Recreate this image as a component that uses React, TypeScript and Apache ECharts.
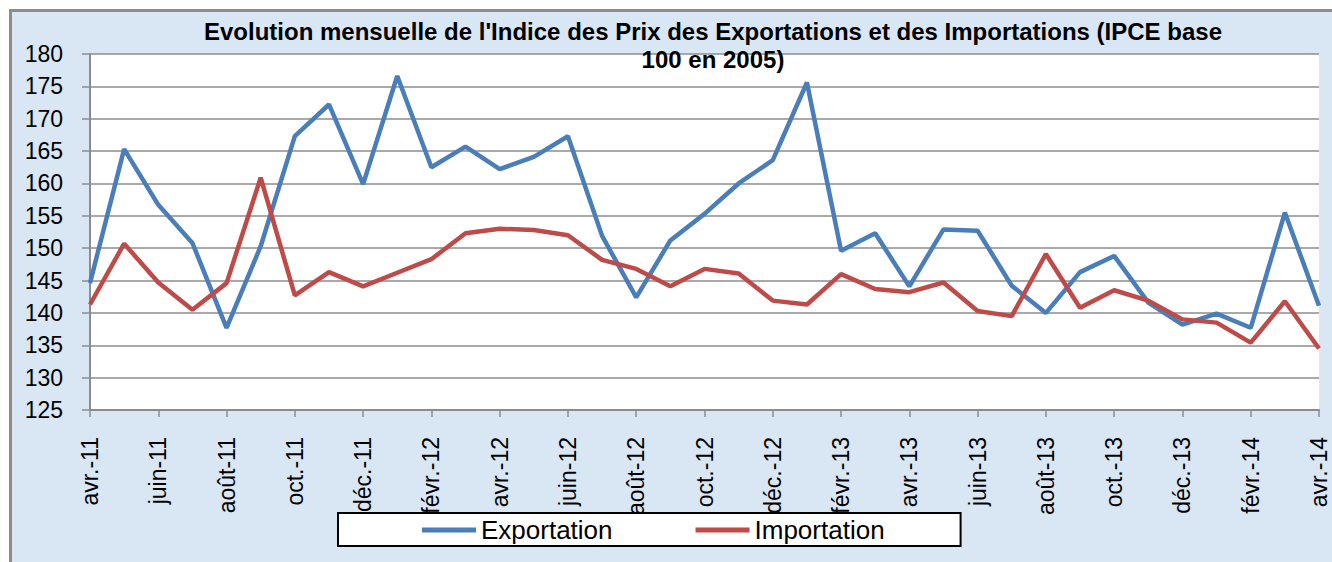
import React, { useEffect, useRef } from "react";
import * as echarts from "echarts";

const months: string[] = [
  "avr.-11", "mai-11", "juin-11", "juil.-11", "août-11", "sept.-11", "oct.-11", "nov.-11", "déc.-11",
  "janv.-12", "févr.-12", "mars-12", "avr.-12", "mai-12", "juin-12", "juil.-12", "août-12", "sept.-12",
  "oct.-12", "nov.-12", "déc.-12", "janv.-13", "févr.-13", "mars-13", "avr.-13", "mai-13", "juin-13",
  "juil.-13", "août-13", "sept.-13", "oct.-13", "nov.-13", "déc.-13", "janv.-14", "févr.-14", "mars-14",
  "avr.-14",
];

const exportation: number[] = [
  144.6, 165.3, 156.7, 150.8, 137.7, 150.3, 167.3, 172.2, 159.9,
  176.6, 162.5, 165.7, 162.2, 164.1, 167.3, 151.9, 142.4, 151.2,
  155.3, 160.0, 163.6, 175.6, 149.6, 152.3, 144.1, 152.9, 152.7,
  144.2, 140.0, 146.3, 148.8, 141.6, 138.2, 139.9, 137.7, 155.5,
  141.1,
];

const importation: number[] = [
  141.3, 150.7, 144.7, 140.5, 144.6, 160.9, 142.7, 146.3, 144.1,
  146.2, 148.3, 152.3, 153.0, 152.8, 152.0, 148.2, 146.8, 144.1,
  146.8, 146.1, 141.9, 141.3, 146.0, 143.7, 143.2, 144.7, 140.3,
  139.5, 149.1, 140.8, 143.5, 141.9, 139.0, 138.5, 135.4, 141.8,
  134.5,
];

const titleLines: string[] = [
  "Evolution mensuelle de l'Indice des Prix des Exportations et des Importations (IPCE base",
  "100 en 2005)",
];

const seriesNames: string[] = ["Exportation", "Importation"];

export default function App() {
  const ref = useRef<HTMLDivElement>(null);

  useEffect(() => {
    if (!ref.current) return;
    const chart = echarts.init(ref.current, null, { renderer: "svg" });
    const font = "Liberation Sans, Arial, sans-serif";
    chart.setOption({
      animation: false,
      backgroundColor: "#ffffff",
      graphic: [
        {
          type: "rect",
          z: -10,
          silent: true,
          shape: { x: 10.5, y: 10.5, width: 1340, height: 570 },
          style: { fill: "#D9E7F5", stroke: "#8C8C8C", lineWidth: 3 },
        },
      ],
      title: {
        text: titleLines.join("\n"),
        left: 708,
        top: 12,
        textAlign: "center",
        textStyle: {
          fontFamily: font,
          fontSize: 24,
          fontWeight: "bold",
          color: "#000",
          lineHeight: 28,
        },
      },
      legend: {
        left: 338,
        top: 513,
        data: seriesNames,
        icon: "rect",
        itemWidth: 54,
        itemHeight: 5,
        itemGap: 83,
        backgroundColor: "#ffffff",
        borderColor: "#000000",
        borderWidth: 2,
        borderRadius: 0,
        padding: [4, 76, 3, 84],
        textStyle: { fontFamily: font, fontSize: 26, color: "#000" },
      },
      grid: {
        left: 90,
        right: 13,
        top: 54,
        bottom: 152,
        show: true,
        backgroundColor: "#ffffff",
        borderWidth: 0,
      },
      xAxis: {
        type: "category",
        data: months,
        boundaryGap: false,
        axisLine: { show: true, lineStyle: { color: "#8C8C8C", width: 2 } },
        axisTick: { show: true, interval: 1, length: 7, lineStyle: { color: "#8C8C8C", width: 1.5 } },
        axisLabel: {
          interval: 1,
          rotate: 90,
          margin: 27,
          fontFamily: font,
          fontSize: 23,
          color: "#000",
        },
        splitLine: { show: false },
      },
      yAxis: {
        type: "value",
        min: 125,
        max: 180,
        interval: 5,
        axisLine: { show: true, lineStyle: { color: "#8C8C8C", width: 2 } },
        axisTick: { show: true, length: 8, lineStyle: { color: "#8C8C8C", width: 1.5 } },
        axisLabel: { margin: 27, fontFamily: font, fontSize: 23, color: "#000" },
        splitLine: { show: true, lineStyle: { color: "#8C8C8C", width: 1.5 } },
      },
      series: [
        {
          name: seriesNames[0],
          type: "line",
          data: exportation,
          showSymbol: false,
          symbol: "none",
          color: "#4A7EBB",
          lineStyle: { color: "#4A7EBB", width: 4.5 },
        },
        {
          name: seriesNames[1],
          type: "line",
          data: importation,
          showSymbol: false,
          symbol: "none",
          color: "#BE4B48",
          lineStyle: { color: "#BE4B48", width: 4.5 },
        },
      ],
    });
    return () => chart.dispose();
  }, []);

  return (
    <div
      ref={ref}
      style={{ position: "absolute", left: 0, top: 0, width: 1332, height: 562 }}
    />
  );
}
